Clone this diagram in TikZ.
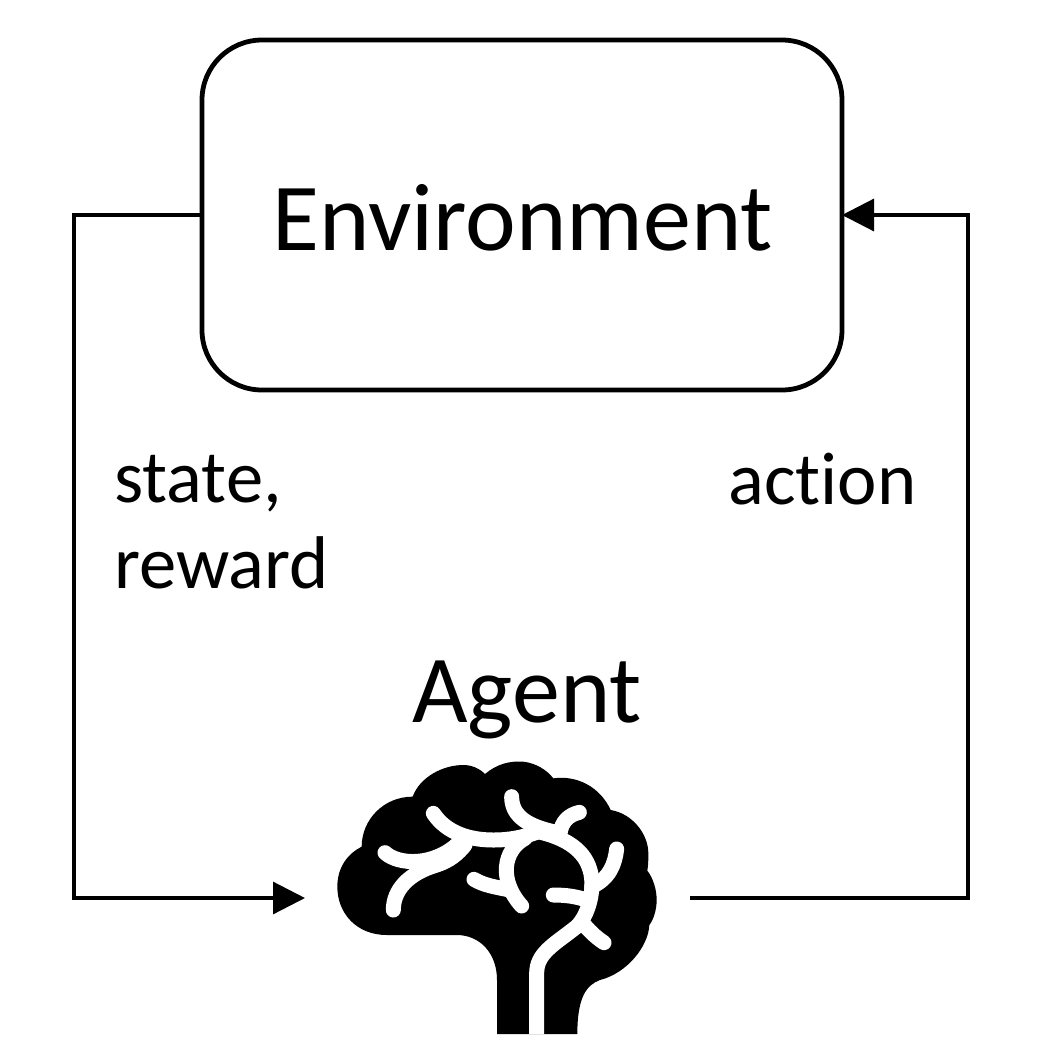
\documentclass[tikz,border=0pt]{standalone}
\usepackage{tikz}
\usepackage{xcolor}
\usepackage{fontspec}
\setmainfont{Carlito}[Ligatures=NoCommon]
\usetikzlibrary{arrows.meta}

\tikzset{
  envbox/.style={draw,line width=3.6pt,rounded corners=45pt,minimum width=480pt,minimum height=262.5pt,inner sep=0pt,outer sep=0pt},
  link/.style={line width=2.4pt},
  linkarrow/.style={link,-{Triangle[length=24pt,width=24pt]}},
  bigtext/.style={inner sep=0pt,font=\fontsize{72}{80}\selectfont},
  smalltext/.style={inner sep=0pt,align=left,font=\fontsize{56}{64.5}\selectfont},
  brainline/.style={draw=white,line width=11.25pt,line cap=round,line join=round}
}

\begin{document}
\begin{tikzpicture}[x=0.75pt,y=0.75pt,yscale=-1,xscale=1]
\useasboundingbox (0,0) rectangle (1047,1047);

%Shape: Rounded Rectangle
\node (env) [envbox] at (522,215) {};
%Shape: Empty box round the brain
\node (brain) [minimum width=288.75pt,minimum height=202.5pt,inner sep=0pt,outer sep=0pt] at (497.5,898) {};
\coordinate (leftcorner) at (74,215);
\coordinate (rightcorner) at (968,215);

%Straight Lines
\draw [linkarrow] (env.west) -- (leftcorner) |- (brain.west);
\draw [linkarrow] (brain.east) -| (rightcorner) -- (env.east);

%Shape: Brain
\begin{scope}[shift={(320,750)},x=0.25pt,y=0.25pt]
\fill (531,852) -- (531,690) .. controls (531,610) and (480,555) .. (410,555) -- (200,555)
  .. controls (110,555) and (52,490) .. (52,410) .. controls (52,350) and (85,310) .. (125,290)
  .. controls (125,210) and (190,140) .. (278,140) .. controls (300,80) and (370,45) .. (430,45)
  .. controls (455,45) and (478,55) .. (495,72) .. controls (530,42) and (570,32) .. (610,35)
  .. controls (650,40) and (680,60) .. (700,85) .. controls (770,75) and (840,110) .. (872,180)
  .. controls (935,190) and (985,250) .. (985,310) .. controls (985,330) and (985,345) .. (982,362)
  .. controls (1000,385) and (1010,420) .. (1010,450) .. controls (1010,480) and (1000,510) .. (988,525)
  .. controls (985,590) and (920,670) .. (840,690) .. controls (800,705) and (772,740) .. (772,852) -- cycle;
%white lines of the brain
\draw [brainline,line cap=butt] (650,852) -- (650,670) .. controls (650,610) and (700,585) .. (770,530)
  .. controls (810,490) and (825,410) .. (810,360) .. controls (790,290) and (720,260) .. (655,245);
\draw [brainline] (340,190) .. controls (380,250) and (450,270) .. (520,270) .. controls (570,270) and (610,262) .. (655,245);
\draw [brainline] (575,140) .. controls (575,190) and (610,225) .. (700,245);
\draw [brainline] (778,187) .. controls (745,195) and (725,215) .. (720,250);
\draw [brainline] (195,308) .. controls (235,345) and (340,350) .. (415,280);
\draw [brainline] (220,480) .. controls (220,420) and (265,370) .. (350,345) .. controls (390,332) and (415,310) .. (435,285);
\draw [brainline] (890,297) .. controls (885,340) and (870,385) .. (815,410);
\draw [brainline] (700,435) .. controls (740,435) and (770,440) .. (800,450);
\draw [brainline] (852,578) .. controls (825,560) and (805,540) .. (785,515);
\draw [brainline] (615,265) .. controls (550,300) and (535,390) .. (605,468);
\draw [brainline] (462,388) .. controls (490,405) and (520,410) .. (570,420);
\end{scope}

% Text Node
\node (envtext) [bigtext] at (523,218) {Environment};
% Text Node
\node (agenttext) [bigtext,anchor=base] at (527,722) {Agent};
% Text Node
\node (statetext) [smalltext,anchor=north west] at (114,455) {state,\\reward};
% Text Node
\node (actiontext) [smalltext,anchor=base west] at (728,504) {action};

\end{tikzpicture}
\end{document}
